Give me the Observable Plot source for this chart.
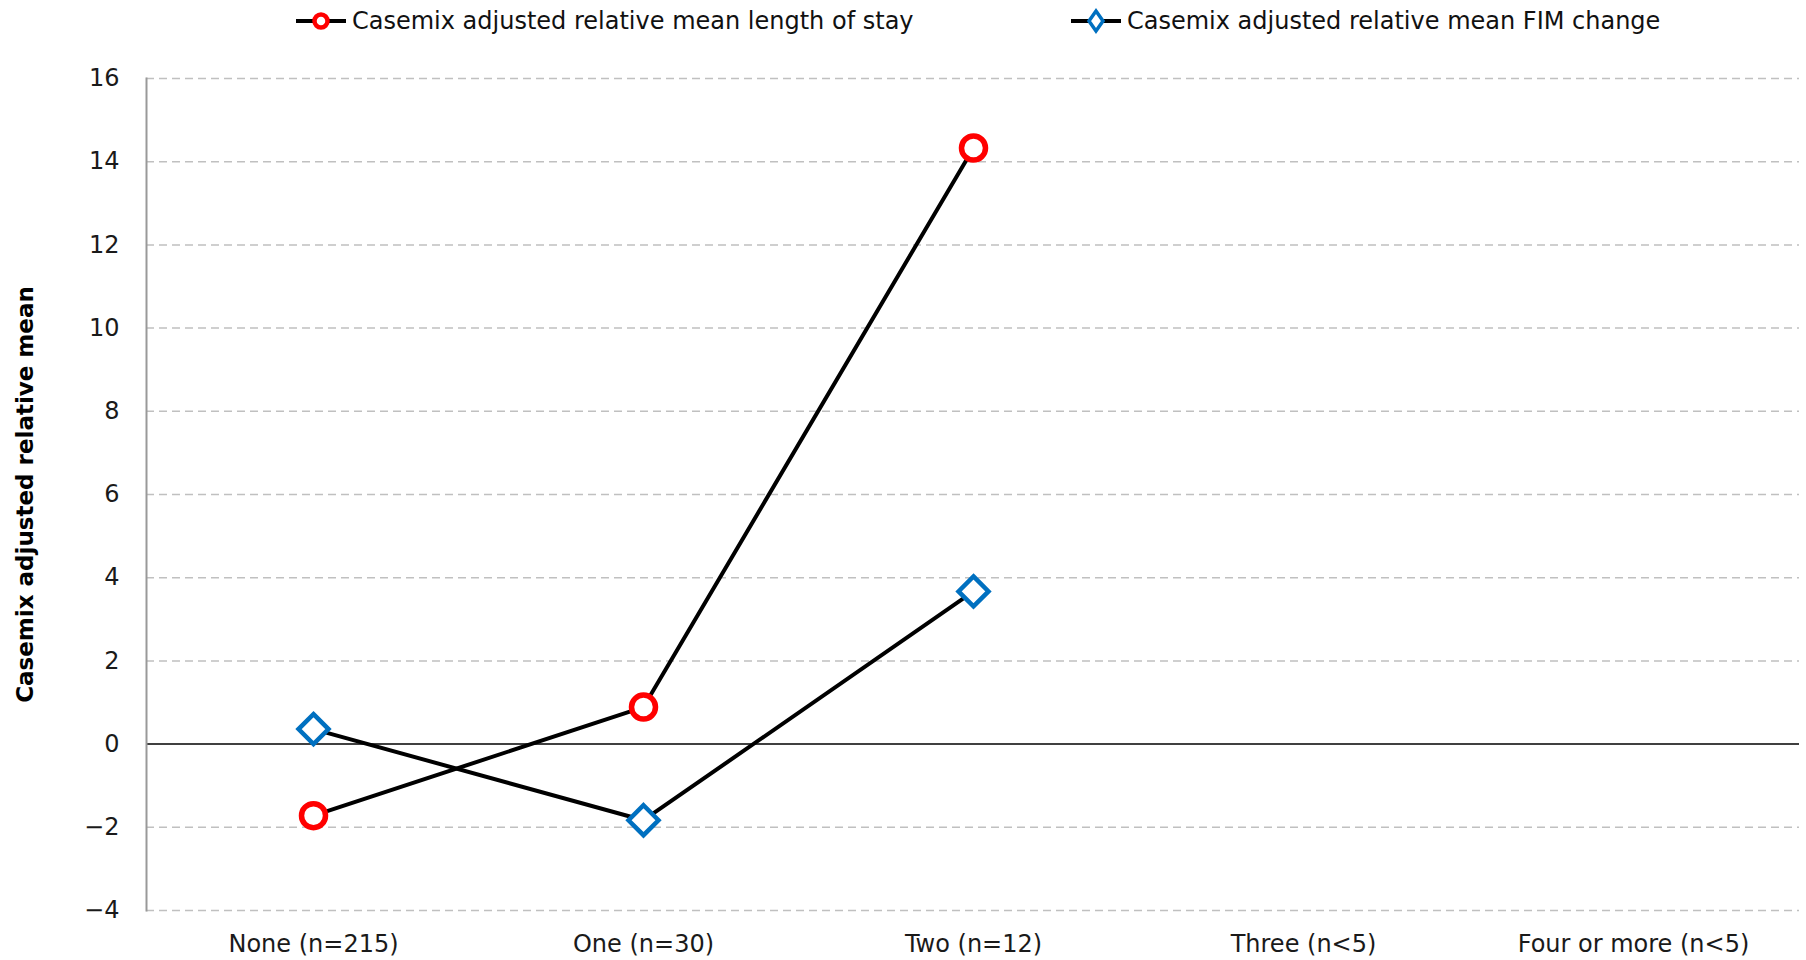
<!DOCTYPE html>
<html>
<head>
<meta charset="utf-8">
<script src="https://cdn.jsdelivr.net/npm/d3@7"></script>
<script src="https://cdn.jsdelivr.net/npm/@observablehq/plot@0.6"></script>
<style>
  html, body { margin: 0; padding: 0; background: #fff; }
  body { width: 1806px; height: 960px; overflow: hidden; font-family: "DejaVu Sans", sans-serif; }
  #legend { position: relative; height: 45px; width: 1806px; }
  .item { position: absolute; top: 0; height: 42px; display: flex; align-items: center; font-size: 24px; color: #111; white-space: nowrap; }
  .item svg { margin-right: 4px; }
  #chart svg { display: block; }
</style>
</head>
<body>
<div id="legend"></div>
<div id="chart"></div>
<script>
const categories = ["None (n=215)", "One (n=30)", "Two (n=12)", "Three (n<5)", "Four or more (n<5)"];
const losValues = [-1.72, 0.89, 14.33, null, null];
const fimValues = [0.36, -1.83, 3.67, null, null];
const yTicks = [-4, -2, 0, 2, 4, 6, 8, 10, 12, 14, 16];
const seriesNames = ["Casemix adjusted relative mean length of stay", "Casemix adjusted relative mean FIM change"];

const los = categories.map((c, i) => ({cat: c, value: losValues[i]})).filter(d => d.value != null);
const fim = categories.map((c, i) => ({cat: c, value: fimValues[i]})).filter(d => d.value != null);

// legend
const legend = document.getElementById("legend");
const items = [
  {name: seriesNames[0], left: 294, sym: `<svg width="54" height="30"><line x1="2" y1="15" x2="52" y2="15" stroke="#000" stroke-width="4"/><circle cx="27" cy="15" r="6.5" fill="#fff" stroke="#ff0000" stroke-width="4.5"/></svg>`},
  {name: seriesNames[1], left: 1069, sym: `<svg width="54" height="30"><line x1="2" y1="15" x2="52" y2="15" stroke="#000" stroke-width="4"/><path d="M27,5 L34,15 L27,25 L20,15 Z" fill="#fff" stroke="#0070c0" stroke-width="3.5"/></svg>`}
];
for (const it of items) {
  const div = document.createElement("div");
  div.className = "item";
  div.style.left = it.left + "px";
  div.innerHTML = it.sym + `<span>${it.name}</span>`;
  legend.appendChild(div);
}

const chart = Plot.plot({
  width: 1806,
  height: 915,
  marginLeft: 146,
  marginRight: 7,
  marginTop: 33,
  marginBottom: 50,
  style: {fontFamily: "DejaVu Sans, sans-serif", fontSize: "24px", color: "#1a1a1a", background: "#fff"},
  x: {type: "point", domain: categories, padding: 0.5},
  y: {domain: [-4, 16], ticks: yTicks},
  marks: [
    Plot.ruleY(yTicks.filter(t => t !== 0), {stroke: "#c0c0c0", strokeWidth: 1.5, strokeDasharray: "8,5"}),
    Plot.ruleY([0], {stroke: "#000", strokeWidth: 1.5}),
    Plot.frame({anchor: "left", stroke: "#999", strokeWidth: 2}),
    Plot.axisY({ticks: yTicks, tickSize: 0, tickPadding: 27, label: null, fontSize: 24}),
    Plot.axisX({tickSize: 0, tickPadding: 24, label: null, fontSize: 24}),
    Plot.text(["Casemix adjusted relative mean"], {frameAnchor: "left", textAnchor: "middle", dx: -121, rotate: -90, fontWeight: "bold", fontSize: 23, fill: "#000"}),
    Plot.line(los, {x: "cat", y: "value", stroke: "#000", strokeWidth: 4}),
    Plot.line(fim, {x: "cat", y: "value", stroke: "#000", strokeWidth: 4}),
    Plot.dot(los, {x: "cat", y: "value", r: 12, fill: "#fff", stroke: "#ff0000", strokeWidth: 5.5}),
    Plot.dot(fim, {x: "cat", y: "value", r: 13.5, symbol: "diamond2", fill: "#fff", stroke: "#0070c0", strokeWidth: 4.5})
  ]
});
document.getElementById("chart").appendChild(chart);
</script>
</body>
</html>
